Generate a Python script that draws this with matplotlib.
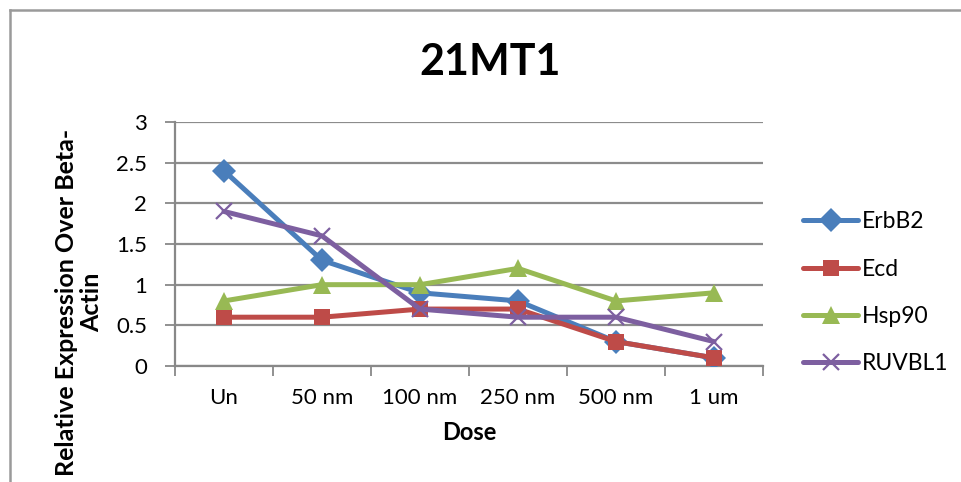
import matplotlib
matplotlib.use("Agg")
import matplotlib.pyplot as plt
from matplotlib.lines import Line2D

categories = ["Un", "50 nm", "100 nm", "250 nm", "500 nm", "1 um"]
erbb2 = [2.4, 1.3, 0.9, 0.8, 0.3, 0.1]
ecd = [0.6, 0.6, 0.7, 0.7, 0.3, 0.1]
hsp90 = [0.8, 1.0, 1.0, 1.2, 0.8, 0.9]
ruvbl1 = [1.9, 1.6, 0.7, 0.6, 0.6, 0.3]
yticks = [0, 0.5, 1, 1.5, 2, 2.5, 3]
ytick_labels = ["0", "0.5", "1", "1.5", "2", "2.5", "3"]

series = [
    ("ErbB2", erbb2, "#4A7EBB", "D", 12),
    ("Ecd", ecd, "#BE4B48", "s", 12),
    ("Hsp90", hsp90, "#98B954", "^", 13),
    ("RUVBL1", ruvbl1, "#7D5FA0", "x", 12),
]

plt.rcParams["font.family"] = ["Lato", "DejaVu Sans"]

fig = plt.figure(figsize=(9.61, 4.82), dpi=100)
fy = 1 - 9.5/482
fx = 9.5/961
fig.add_artist(Line2D([fx, 1.0], [fy, fy], transform=fig.transFigure, color="#9a9a9a", linewidth=1.8))
fig.add_artist(Line2D([fx, fx], [0, fy], transform=fig.transFigure, color="#9a9a9a", linewidth=1.8))

ax = fig.add_axes([175/961, 1 - 366/482, (763 - 175)/961, (366 - 122)/482])

x = list(range(len(categories)))
for name, vals, color, marker, ms in series:
    mew = 1.6 if marker == "x" else 0
    ax.plot(x, vals, color=color, linewidth=3.6, marker=marker, markersize=ms,
            markeredgewidth=mew, markeredgecolor=color, label=name,
            solid_joinstyle="round", solid_capstyle="round", zorder=3)

ax.set_xlim(-0.5, len(categories) - 0.5)
ax.set_ylim(0, 3)
ax.set_yticks(yticks)
ax.set_yticklabels(ytick_labels, fontsize=16)
ax.set_xticks([i - 0.5 for i in range(len(categories) + 1)])
ax.set_xticklabels([])
ax.set_xticks(x, minor=True)
ax.set_xticklabels(categories, minor=True, fontsize=16)
ax.tick_params(axis="x", which="major", length=7, width=1.3, color="#888888", direction="out")
ax.tick_params(axis="x", which="minor", length=0, pad=16)
ax.tick_params(axis="y", length=7, width=1.3, color="#888888", direction="out", pad=13)
ax.grid(axis="y", color="#8c8c8c", linewidth=1.6, zorder=0)
for s in ["top", "right"]:
    ax.spines[s].set_visible(False)
for s in ["left", "bottom"]:
    ax.spines[s].set_color("#888888")
    ax.spines[s].set_linewidth(1.6)

ax.set_xlabel("Dose", fontsize=17, fontweight="bold", labelpad=9)
fig.text(79/961, 1 - 302/482, "Relative Expression Over Beta-\nActin", fontsize=18,
         fontweight="bold", rotation=90, ha="center", va="center",
         multialignment="center", linespacing=1.15)
fig.text(490/961, 1 - 62/482, "21MT1", fontsize=31, fontweight="bold", ha="center", va="center")

leg = ax.legend(loc="center left", bbox_to_anchor=((803 - 175)/588, 0.30), frameon=False,
                fontsize=16.5, labelspacing=1.15, handlelength=2.4, handletextpad=0.18,
                borderpad=0, borderaxespad=0)

fig.savefig("out.png", dpi=100)
